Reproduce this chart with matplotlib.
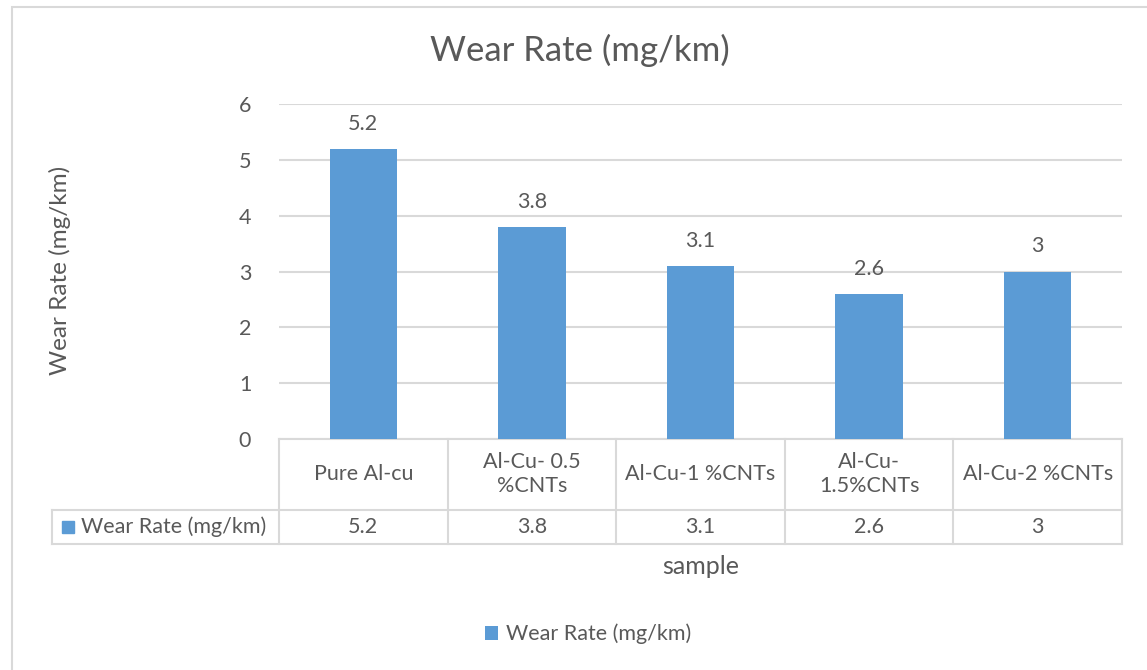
import matplotlib.pyplot as plt
from matplotlib.patches import Rectangle

# --- data ---
samples = ['Pure Al-cu', 'Al-Cu- 0.5\n%CNTs', 'Al-Cu-1 %CNTs', 'Al-Cu-\n1.5%CNTs', 'Al-Cu-2 %CNTs']
wear_rate = [5.2, 3.8, 3.1, 2.6, 3]
series_name = 'Wear Rate (mg/km)'
yticks = [0, 1, 2, 3, 4, 5, 6]

bar_color = '#5B9BD5'
text_color = '#595959'
grid_color = '#D9D9D9'

plt.rcParams['font.family'] = ['Lato', 'DejaVu Sans']
fs = 15.5

W, H = 1147, 670
fig = plt.figure(figsize=(W / 100, H / 100), dpi=100)

# chart area border
fig.patches.append(Rectangle((12 / W, -0.05), 1.2, (H - 7) / H + 0.05, transform=fig.transFigure,
                             fill=False, edgecolor=grid_color, linewidth=1.5))

# plot area in pixels
left, right, top, bottom = 279, 1122, 104, 439
ax = fig.add_axes([left / W, (H - bottom) / H, (right - left) / W, (bottom - top) / H])

x = list(range(len(samples)))
bars = ax.bar(x, wear_rate, width=0.4, color=bar_color, zorder=3, label=series_name)
ax.set_xlim(-0.5, len(samples) - 0.5)
ax.set_ylim(0, 6)
ax.set_yticks(yticks)
ax.set_yticklabels([str(t) for t in yticks])
ax.yaxis.grid(True, color=grid_color, linewidth=1.5, zorder=0)
ax.tick_params(axis='y', length=0, pad=20, labelsize=fs, labelcolor=text_color)
ax.tick_params(axis='x', length=0, labelbottom=False)
for s in ['top', 'right', 'left']:
    ax.spines[s].set_visible(False)
ax.spines['bottom'].set_color(grid_color)
ax.spines['bottom'].set_linewidth(1.5)

for xi, v in zip(x, wear_rate):
    ax.annotate(f'{v:g}', (xi, v), xytext=(0, 18), textcoords='offset points',
                ha='center', va='center', fontsize=fs, color=text_color)

# data table below the axis
ph = bottom - top
row1 = -(510 - bottom) / ph
row2 = -(544 - bottom) / ph
label_left = (52 - left) / (right - left)
bt = ax.get_xaxis_transform()
lk = dict(color=grid_color, linewidth=1.5, clip_on=False, transform=ax.transAxes)
ax.plot([label_left, 1], [row1, row1], **lk)
ax.plot([label_left, 1], [row2, row2], **lk)
ax.plot([label_left, label_left], [row1, row2], **lk)
for b in [xi - 0.5 for xi in x] + [len(samples) - 0.5]:
    ax.plot([b, b], [0, row2], color=grid_color, linewidth=1.5, clip_on=False, transform=bt)
for xi, name, v in zip(x, samples, wear_rate):
    ax.text(xi, row1 / 2, name, transform=bt, ha='center', va='center',
            fontsize=fs, color=text_color, linespacing=1.25)
    ax.text(xi, (row1 + row2) / 2, f'{v:g}', transform=bt, ha='center', va='center',
            fontsize=fs, color=text_color)
ax.add_patch(Rectangle(((62 - left) / (right - left), (row1 + row2) / 2 - 6 / ph), 12 / (right - left), 12 / ph,
                       transform=ax.transAxes, color=bar_color, clip_on=False))
ax.text((81 - left) / (right - left), (row1 + row2) / 2, series_name, transform=ax.transAxes,
        ha='left', va='center', fontsize=fs, color=text_color)

ax.text(0.5, -(566 - bottom) / ph, 'sample', transform=ax.transAxes, ha='center', va='center',
        fontsize=18, color=text_color)

fig.text(60 / W, 1 - 270 / H, 'Wear Rate (mg/km)', rotation=90, ha='center', va='center',
         fontsize=17.5, color=text_color)
fig.text(580 / W, 1 - 50 / H, 'Wear Rate (mg/km)', ha='center', va='center',
         fontsize=25, color=text_color)

fig.legend(handles=[bars], labels=[series_name], loc='center', bbox_to_anchor=(588 / W, 1 - 634 / H),
           frameon=False, fontsize=fs, labelcolor=text_color, handlelength=0.6, handleheight=0.6,
           handletextpad=0.4)

fig.savefig('out.png', dpi=100)
